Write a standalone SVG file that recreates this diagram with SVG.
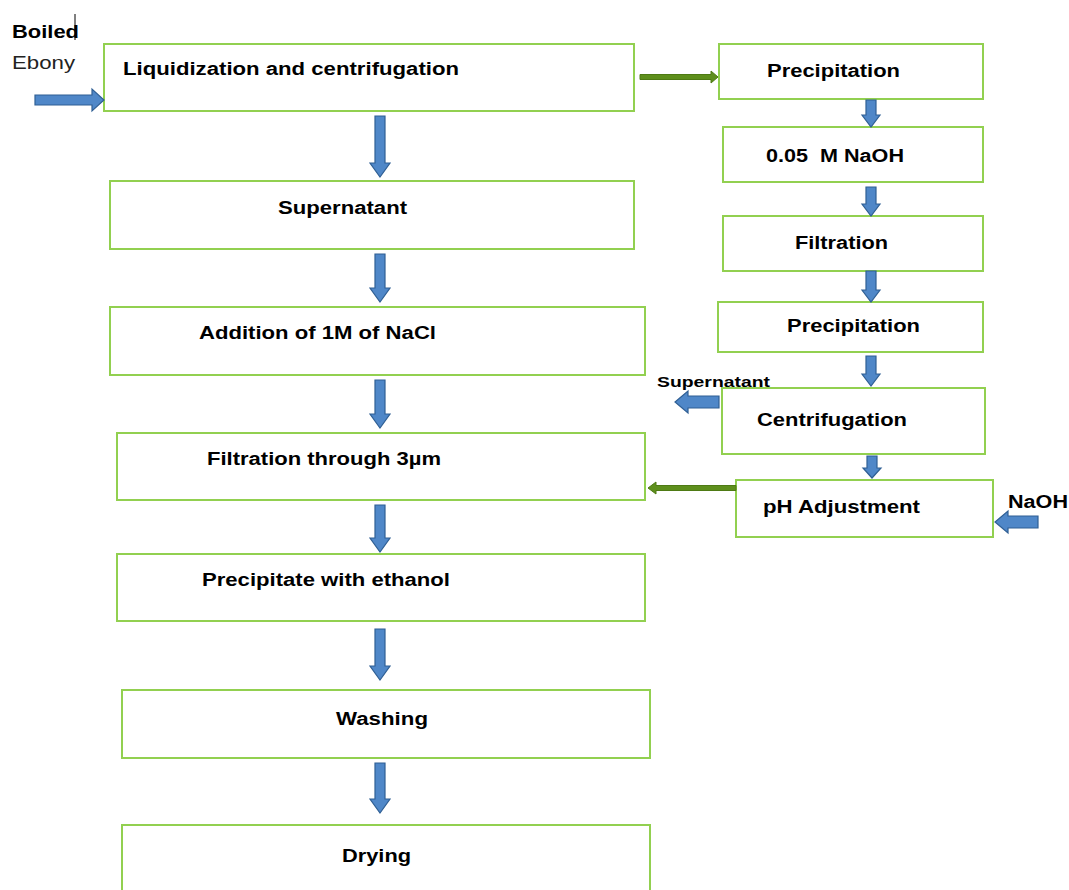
<svg xmlns="http://www.w3.org/2000/svg" width="1069" height="890" viewBox="0 0 1069 890">
<defs>
<style>
.box{fill:#fff;stroke:#92d050;stroke-width:2}
.t{font-family:"Liberation Sans",Arial,sans-serif;font-size:18px;font-weight:bold;fill:#000}
.tr{font-family:"Liberation Sans",Arial,sans-serif;font-size:18px;fill:#222}
.ba{fill:#4f87c8;stroke:#2f5f94;stroke-width:1.2}
.ga{fill:#5e8f1c;stroke:#4e7a14;stroke-width:1}
</style>
</defs>
<rect width="1069" height="890" fill="#fff"/>
<g id="label-boiled">
<text class="t" x="12" y="38" textLength="67" lengthAdjust="spacingAndGlyphs">Boiled</text>
<text class="tr" x="12" y="69" textLength="63" lengthAdjust="spacingAndGlyphs">Ebony</text>
<line x1="75" y1="14" x2="75" y2="40" stroke="#000" stroke-width="1"/>
</g>
<g id="n1"><rect class="box" x="104" y="44" width="530" height="67"/><text class="t" x="123" y="75" textLength="336" lengthAdjust="spacingAndGlyphs">Liquidization and centrifugation</text></g>
<g id="n2"><rect class="box" x="110" y="181" width="524" height="68"/><text class="t" x="278" y="214" textLength="129" lengthAdjust="spacingAndGlyphs">Supernatant</text></g>
<g id="n3"><rect class="box" x="110" y="307" width="535" height="68"/><text class="t" x="199" y="339" textLength="237" lengthAdjust="spacingAndGlyphs">Addition of 1M of NaCl</text></g>
<g id="n4"><rect class="box" x="117" y="433" width="528" height="67"/><text class="t" x="207" y="465" textLength="234" lengthAdjust="spacingAndGlyphs">Filtration through 3µm</text></g>
<g id="n5"><rect class="box" x="117" y="554" width="528" height="67"/><text class="t" x="202" y="586" textLength="248" lengthAdjust="spacingAndGlyphs">Precipitate with ethanol</text></g>
<g id="n6"><rect class="box" x="122" y="690" width="528" height="68"/><text class="t" x="336" y="725" textLength="92" lengthAdjust="spacingAndGlyphs">Washing</text></g>
<g id="n7"><rect class="box" x="122" y="825" width="528" height="80"/><text class="t" x="342" y="862" textLength="69" lengthAdjust="spacingAndGlyphs">Drying</text></g>
<g id="r1"><rect class="box" x="719" y="44" width="264" height="55"/><text class="t" x="767" y="77" textLength="133" lengthAdjust="spacingAndGlyphs">Precipitation</text></g>
<g id="r2"><rect class="box" x="723" y="127" width="260" height="55"/><text class="t" x="766" y="162" textLength="138" lengthAdjust="spacingAndGlyphs">0.05&#160; M NaOH</text></g>
<g id="r3"><rect class="box" x="723" y="216" width="260" height="55"/><text class="t" x="795" y="249" textLength="93" lengthAdjust="spacingAndGlyphs">Filtration</text></g>
<g id="r4"><rect class="box" x="718" y="302" width="265" height="50"/><text class="t" x="787" y="332" textLength="133" lengthAdjust="spacingAndGlyphs">Precipitation</text></g>
<g id="r5"><rect class="box" x="722" y="388" width="263" height="66"/><text class="t" x="757" y="426" textLength="150" lengthAdjust="spacingAndGlyphs">Centrifugation</text></g>
<g id="r6"><rect class="box" x="736" y="480" width="257" height="57"/><text class="t" x="763" y="513" textLength="157" lengthAdjust="spacingAndGlyphs">pH Adjustment</text></g>
<g id="label-supernatant"><text class="t" x="657" y="387" style="font-size:15px" textLength="113" lengthAdjust="spacingAndGlyphs">Supernatant</text></g>
<g id="label-naoh"><text class="t" x="1008" y="508" textLength="60" lengthAdjust="spacingAndGlyphs">NaOH</text></g>
<g id="connectors">
<path class="ba" d="M35,95 H92 V89 L104,100 L92,111 V105 H35 Z"/>
<path class="ba" d="M375,116 H385 V163 H390 L380,177 L370,163 H375 Z"/>
<path class="ba" d="M375,254 H385 V288 H390 L380,302 L370,288 H375 Z"/>
<path class="ba" d="M375,380 H385 V414 H390 L380,428 L370,414 H375 Z"/>
<path class="ba" d="M375,505 H385 V538 H390 L380,552 L370,538 H375 Z"/>
<path class="ba" d="M375,629 H385 V666 H390 L380,680 L370,666 H375 Z"/>
<path class="ba" d="M375,763 H385 V799 H390 L380,813 L370,799 H375 Z"/>
<path class="ba" d="M866,100 H876 V115 H880 L871,127 L862,115 H866 Z"/>
<path class="ba" d="M866,187 H876 V204 H880 L871,216 L862,204 H866 Z"/>
<path class="ba" d="M866,271 H876 V290 H880 L871,302 L862,290 H866 Z"/>
<path class="ba" d="M866,356 H876 V374 H880 L871,386 L862,374 H866 Z"/>
<path class="ba" d="M867,456 H877 V468 H881 L872,478 L863,468 H867 Z"/>
<path class="ba" d="M719,396 H688 V391 L675,402 L688,413 V408 H719 Z"/>
<path class="ba" d="M1038,516 H1008 V511 L995,522 L1008,533 V528 H1038 Z"/>
<path class="ga" d="M640,74.5 H711 V71 L718,77 L711,83 V79.5 H640 Z"/>
<path class="ga" d="M736,485.5 H656 V482 L648,488 L656,494 V490.5 H736 Z"/>
</g>
</svg>
